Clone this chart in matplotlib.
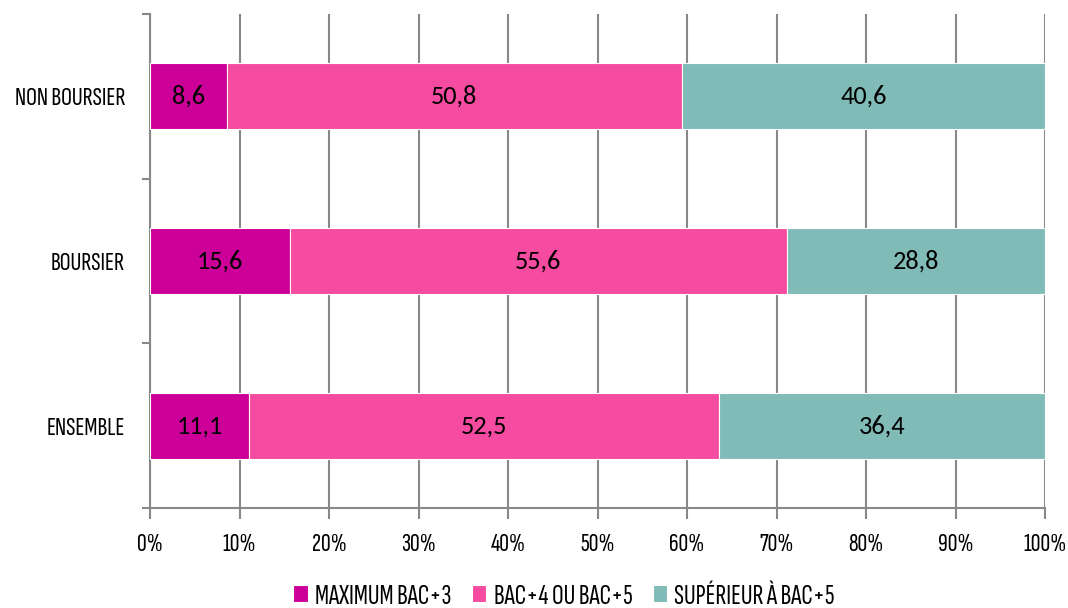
import matplotlib.pyplot as plt
import numpy as np

categories = ['NON BOURSIER', 'BOURSIER', 'ENSEMBLE']
series_names = ['MAXIMUM BAC+3', 'BAC+4 OU BAC+5', 'SUPÉRIEUR À BAC+5']
values = {
    'MAXIMUM BAC+3': [8.6, 15.6, 11.1],
    'BAC+4 OU BAC+5': [50.8, 55.6, 52.5],
    'SUPÉRIEUR À BAC+5': [40.6, 28.8, 36.4],
}
colors = ['#CC0099', '#F54BA0', '#80BBB8']
xtick_labels = [f'{v}%' for v in range(0, 101, 10)]

# police condensée pour les axes, style Calibri pour les valeurs
plt.rcParams['font.family'] = ['Sofia Sans Extra Condensed', 'Pathway Gothic One',
                               'Barlow Condensed', 'DejaVu Sans']
value_font = ['Carlito', 'Open Sans', 'DejaVu Sans']

fig = plt.figure(figsize=(10.68, 6.08), dpi=100)
ax = fig.add_axes([150 / 1068, 1 - 508 / 608, 895 / 1068, 494 / 608])

y = np.arange(len(categories))
totals = np.sum([values[s] for s in series_names], axis=0)
left = np.zeros(len(categories))
for name, col in zip(series_names, colors):
    v = np.array(values[name])
    w = v / totals * 100
    ax.barh(y, w, left=left, height=0.4, color=col, edgecolor='white',
            linewidth=0.8, label=name, zorder=3)
    for yi, li, wi, vi in zip(y, left, w, v):
        ax.text(li + wi / 2, yi, f'{vi:.1f}'.replace('.', ','), ha='center',
                va='center', fontsize=19, family=value_font,
                color='black', zorder=4)
    left += w

ax.set_xlim(0, 100)
ax.set_ylim(len(categories) - 0.5, -0.5)
ax.set_xticks(np.arange(0, 101, 10))
ax.set_xticklabels(xtick_labels, fontsize=19.5)
ax.set_yticks(y)
ax.set_yticklabels(categories, fontsize=19.5)
ax.set_yticks(np.arange(-0.5, len(categories), 1), minor=True)
ax.tick_params(axis='y', which='major', length=0, pad=18)
ax.tick_params(axis='y', which='minor', length=6, width=1.5, color='#888888')
ax.tick_params(axis='x', length=8, width=1.5, color='#888888', pad=10)
ax.grid(axis='x', color='#888888', linewidth=1.5, zorder=0)
for s in ['top', 'right']:
    ax.spines[s].set_visible(False)
for s in ['left', 'bottom']:
    ax.spines[s].set_color('#888888')
    ax.spines[s].set_linewidth(1.5)

fig.legend(loc='lower center', bbox_to_anchor=(0.528, -0.045), ncol=3, frameon=False,
           fontsize=21, handlelength=0.5, handleheight=0.5, handletextpad=0.25,
           columnspacing=0.7)

fig.savefig('out.png', dpi=100)
